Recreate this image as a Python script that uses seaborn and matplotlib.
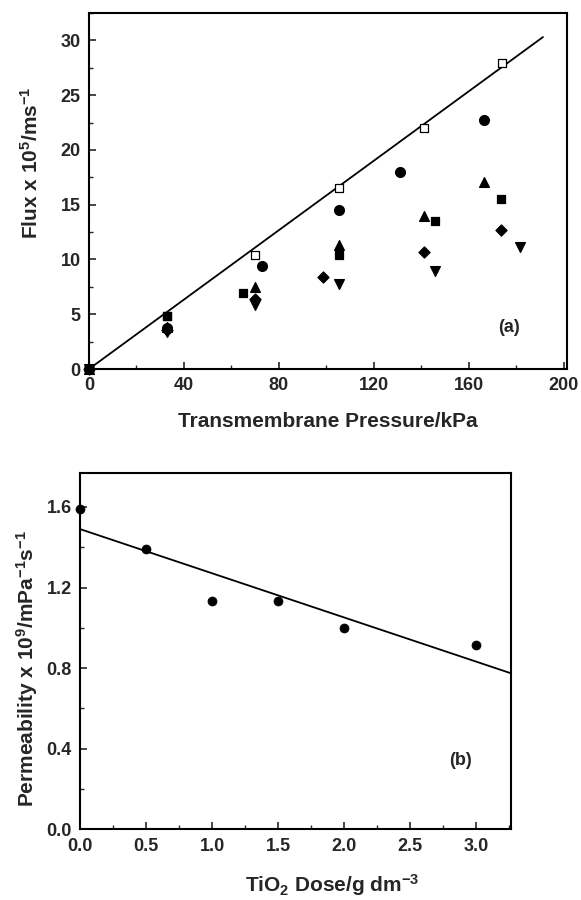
import numpy as np
import pandas as pd
import matplotlib
matplotlib.use("Agg")
import matplotlib.pyplot as plt
from matplotlib.ticker import MultipleLocator, FormatStrFormatter
import seaborn as sns

# ---------------- data (panel a) ----------------
clean_x = [0, 33, 70, 105.5, 141, 174]
clean_y = [0, 4.8, 10.4, 16.5, 22.0, 27.9]
circle_x = [0, 33, 73, 105.5, 131, 166.5]
circle_y = [0, 3.7, 9.4, 14.5, 18.0, 22.7]
tri_x = [0, 33, 70, 105.5, 141, 166.5]
tri_y = [0, 3.8, 7.5, 11.3, 14.0, 17.1]
sq_x = [0, 33, 65, 105.5, 146, 173.5]
sq_y = [0, 4.8, 6.9, 10.4, 13.5, 15.5]
dia_x = [0, 33, 70, 98.5, 141, 173.5]
dia_y = [0, 3.6, 6.4, 8.4, 10.7, 12.7]
dtri_x = [0, 33, 70, 105.5, 146, 181.5]
dtri_y = [0, 3.4, 5.8, 7.8, 8.9, 11.1]
fit_a_x = [0, 191.3]
fit_a_y = [0, 30.3]

# ---------------- data (panel b) ----------------
dose = [0.0, 0.5, 1.0, 1.5, 2.0, 3.0]
perm = [1.59, 1.39, 1.135, 1.135, 1.0, 0.915]
fit_b_x = [0.0, 3.26]
fit_b_y = [1.49, 0.775]

sns.set_style("ticks")
plt.rcParams['font.family'] = ['Liberation Sans', 'DejaVu Sans']
plt.rcParams['font.weight'] = 'bold'
plt.rcParams['mathtext.fontset'] = 'custom'
plt.rcParams['mathtext.rm'] = 'Liberation Sans:bold'
plt.rcParams['mathtext.it'] = 'Liberation Sans:bold'
plt.rcParams['mathtext.bf'] = 'Liberation Sans:bold'
plt.rcParams['mathtext.default'] = 'rm'

fig = plt.figure(figsize=(5.81, 9.0), dpi=100)
ax1 = fig.add_axes([0.1532, 0.590, 0.823, 0.3956])
ax2 = fig.add_axes([0.1377, 0.0786, 0.741, 0.3962])

# drawing order: open squares first, filled circles last (on top)
series = [
    ("0.0", clean_x, clean_y, "s", "white", 36),
    ("3.0", dtri_x, dtri_y, "v", "black", 50),
    ("2.0", dia_x, dia_y, "D", "black", 32),
    ("1.0", tri_x, tri_y, "^", "black", 50),
    ("1.5", sq_x, sq_y, "s", "black", 40),
    ("0.5", circle_x, circle_y, "o", "black", 50),
]

sns.lineplot(x=fit_a_x, y=fit_a_y, ax=ax1, color="black", lw=1.3)
for i, (name, xs, ys, m, fc, s) in enumerate(series):
    df = pd.DataFrame({"x": xs, "y": ys})
    sns.scatterplot(data=df, x="x", y="y", ax=ax1, marker=m, s=s,
                    facecolor=fc, edgecolor="black", linewidth=0.9, zorder=3 + i,
                    clip_on=False)

ax1.set_xlim(0, 201.5)
ax1.set_ylim(0, 32.5)
ax1.xaxis.set_major_locator(MultipleLocator(40))
ax1.xaxis.set_minor_locator(MultipleLocator(20))
ax1.yaxis.set_major_locator(MultipleLocator(5))
ax1.yaxis.set_minor_locator(MultipleLocator(2.5))
ax1.set_xlabel("Transmembrane Pressure/kPa", fontsize=15, fontweight="bold", labelpad=13)
ax1.set_ylabel(r"Flux x 10$^{5}$/ms$^{-1}$", fontsize=15, fontweight="bold")
ax1.yaxis.set_label_coords(-0.098, 0.58)
ax1.text(177, 3.8, "(a)", fontsize=13, fontweight="bold", ha="center", va="center")

sns.lineplot(x=fit_b_x, y=fit_b_y, ax=ax2, color="black", lw=1.3)
sns.scatterplot(x=dose, y=perm, ax=ax2, marker="o", s=42, color="black",
                edgecolor="black", zorder=3, clip_on=False)
ax2.set_xlim(0, 3.26)
ax2.set_ylim(0, 1.77)
ax2.xaxis.set_major_locator(MultipleLocator(0.5))
ax2.xaxis.set_minor_locator(MultipleLocator(0.25))
ax2.yaxis.set_major_locator(MultipleLocator(0.4))
ax2.yaxis.set_minor_locator(MultipleLocator(0.2))
ax2.xaxis.set_major_formatter(FormatStrFormatter('%.1f'))
ax2.yaxis.set_major_formatter(FormatStrFormatter('%.1f'))
ax2.set_xlabel(r"TiO$_{2}$ Dose/g dm$^{-3}$", fontsize=15, fontweight="bold")
ax2.xaxis.set_label_coords(0.585, -0.12)
ax2.set_ylabel(r"Permeability x 10$^{9}$/mPa$^{-1}$s$^{-1}$", fontsize=15, fontweight="bold")
ax2.yaxis.set_label_coords(-0.092, 0.45)
ax2.text(2.88, 0.34, "(b)", fontsize=13, fontweight="bold", ha="center", va="center")

for ax in (ax1, ax2):
    for sp in ax.spines.values():
        sp.set_visible(True)
        sp.set_linewidth(1.5)
        sp.set_color("black")
    ax.tick_params(which="major", direction="in", length=5, width=1.2,
                   labelsize=13, top=False, right=False, pad=6)
    ax.tick_params(which="minor", direction="in", length=3, width=1.0,
                   top=False, right=False)
    for lab in ax.get_xticklabels() + ax.get_yticklabels():
        lab.set_fontweight("bold")
    ax.grid(False)

fig.savefig("out.png", dpi=100)
